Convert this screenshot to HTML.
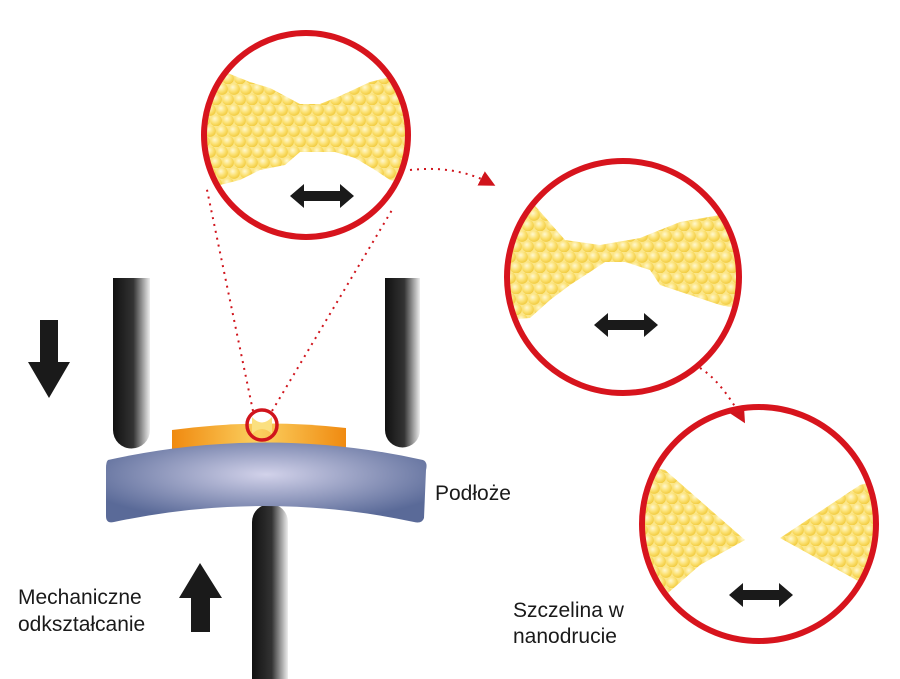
<!DOCTYPE html>
<html><head><style>body{margin:0;background:#fff}svg{display:block}</style></head><body>
<svg width="900" height="679" viewBox="0 0 900 679" xmlns="http://www.w3.org/2000/svg">
<defs>
<radialGradient id="atom" cx="0.4" cy="0.35" r="0.7"><stop offset="0" stop-color="#fff8d0"/><stop offset="0.55" stop-color="#fbe070"/><stop offset="1" stop-color="#f0c838"/></radialGradient>
<pattern id="lat" width="12" height="21" patternUnits="userSpaceOnUse">
<rect width="12" height="21" fill="#fbe68a"/>
<circle cx="6" cy="5" r="5.9" fill="url(#atom)"/>
<circle cx="0" cy="15.5" r="5.9" fill="url(#atom)"/><circle cx="12" cy="15.5" r="5.9" fill="url(#atom)"/>
</pattern>
<linearGradient id="pil" x1="0" x2="1"><stop offset="0" stop-color="#111"/><stop offset="0.55" stop-color="#333"/><stop offset="1" stop-color="#eee"/></linearGradient>
<radialGradient id="sub" cx="0.5" cy="0.4" r="0.6"><stop offset="0" stop-color="#d2d2ea"/><stop offset="1" stop-color="#5a6a98"/></radialGradient>
<linearGradient id="film" x1="0" x2="1"><stop offset="0" stop-color="#f08a10"/><stop offset="0.5" stop-color="#fbd060"/><stop offset="1" stop-color="#f08a10"/></linearGradient>
<clipPath id="c1"><circle cx="306" cy="135" r="102"/></clipPath>
<clipPath id="c2"><circle cx="623" cy="277" r="116"/></clipPath>
<clipPath id="c3"><circle cx="759" cy="524" r="117"/></clipPath>
<marker id="ah" markerWidth="8" markerHeight="8" refX="5" refY="4" orient="auto"><path d="M0,0 L8,4 L0,8z" fill="#d0141c"/></marker>
<path id="dbl" d="M-32,0 L-18,-12 L-18,-5 L18,-5 L18,-12 L32,0 L18,12 L18,5 L-18,5 L-18,12z" fill="#1a1a1a"/>
</defs>

<path d="M113,278 H150 V430 A18.5,18.5 0 0 1 113,430z" fill="url(#pil)"/>
<path d="M385,278 H420 V430 A17.5,17.5 0 0 1 385,430z" fill="url(#pil)"/>
<path d="M252,679 V522 A18,18 0 0 1 288,522 V679z" fill="url(#pil)"/>
<path d="M172,430 Q260,418 346,428 L346,448 L172,450z" fill="url(#film)"/>
<path d="M108,460 Q265,425 423,460 Q428,462 426,470 L424,518 Q422,524 414,522 Q265,490 114,522 Q106,524 106,516 L106,468 Q106,462 108,460z" fill="url(#sub)"/>
<path d="M252,417 Q262,428 272,417 L272,434 Q262,424 252,434z" fill="#fbe080"/>
<circle cx="262" cy="425" r="15" fill="none" stroke="#d0141c" stroke-width="3.5"/>
<g stroke="#d0141c" stroke-width="2" stroke-dasharray="2,5" fill="none">
<line x1="253" y1="411" x2="206" y2="185"/>
<line x1="272" y1="411" x2="392" y2="210"/>
<path d="M410,170 Q455,165 490,183" marker-end="url(#ah)"/>
<path d="M700,368 Q720,380 742,418" marker-end="url(#ah)"/>
</g>
<g clip-path="url(#c1)">
<path d="M200,72 L225,72 L250,82 L270,88 L300,104 L320,104 L340,96 L370,82 L410,72 L412,185 L390,180 L375,170 L355,158 L335,152 L300,152 L285,165 L260,170 L240,180 L200,190z" fill="url(#lat)"/>
</g>
<circle cx="306" cy="135" r="102" fill="none" stroke="#d7141d" stroke-width="6"/>
<use href="#dbl" transform="translate(322,196)"/>
<g clip-path="url(#c2)">
<path d="M505,195 L530,200 L565,240 L600,245 L640,238 L680,222 L720,215 L745,215 L745,310 L720,305 L690,295 L660,285 L650,270 L625,262 L605,262 L590,272 L570,285 L550,300 L530,318 L505,320z" fill="url(#lat)"/>
</g>
<circle cx="623" cy="277" r="116" fill="none" stroke="#d7141d" stroke-width="6"/>
<use href="#dbl" transform="translate(626,325)"/>
<g clip-path="url(#c3)">
<path d="M640,465 L665,470 L745,540 L700,565 L660,600 L640,605z" fill="url(#lat)"/>
<path d="M880,480 L860,485 L780,538 L820,560 L860,582 L880,582z" fill="url(#lat)"/>
</g>
<circle cx="759" cy="524" r="117" fill="none" stroke="#d7141d" stroke-width="6"/>
<use href="#dbl" transform="translate(761,595)"/>
<path d="M40,320 H58 V362 H70 L49,398 L28,362 H40z" fill="#1a1a1a"/>
<path d="M191,632 H210 V598 H222 L200,563 L179,598 H191z" fill="#1a1a1a"/>
<g font-family="Liberation Sans, sans-serif" font-size="21" fill="#1a1a1a">
<text x="435" y="500">Podłoże</text>
<text x="18" y="604">Mechaniczne</text>
<text x="18" y="631">odkształcanie</text>
<text x="513" y="617">Szczelina w</text>
<text x="513" y="643">nanodrucie</text>
</g>
</svg>
</body></html>
